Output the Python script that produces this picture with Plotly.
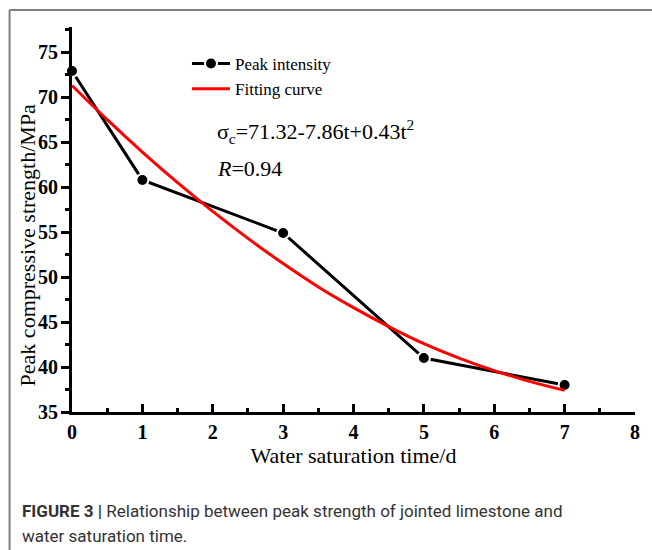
import plotly.graph_objects as go

# Data
t_days = [0, 1, 3, 5, 7]
peak_strength = [72.9, 60.8, 54.9, 41.0, 38.0]

fit_t = [0, 0.5, 1, 1.5, 2, 2.5, 3, 3.5, 4, 4.5, 5, 5.5, 6, 6.5, 7]
fit_sigma = [71.3, 67.5, 63.9, 60.5, 57.3, 54.3, 51.5, 48.9, 46.6, 44.5, 42.6, 41.0, 39.6, 38.4, 37.4]

x_ticks = [0, 1, 2, 3, 4, 5, 6, 7, 8]
y_ticks = [35, 40, 45, 50, 55, 60, 65, 70, 75]

W, H = 652, 550
L, R, T, B = 72, 640, 27, 412  # plot area pixels


def px(x):
    return (x - L) / (R - L)


def py(y):
    return (B - y) / (B - T)


serif = "Liberation Serif, Times New Roman, serif"

fig = go.Figure()
fig.add_trace(go.Scatter(
    x=t_days, y=peak_strength, mode="lines+markers", name="Peak intensity",
    line=dict(color="black", width=3),
    marker=dict(color="black", size=12, line=dict(color="white", width=2)),
    cliponaxis=False,
))
fig.add_trace(go.Scatter(
    x=fit_t, y=fit_sigma, mode="lines", name="Fitting curve",
    line=dict(color="#ff0000", width=3, shape="spline"),
    cliponaxis=False,
))

fig.update_layout(
    width=W, height=H, autosize=False,
    margin=dict(l=L, r=W - R, t=T, b=H - B),
    paper_bgcolor="white", plot_bgcolor="white",
    font=dict(family=serif, color="black"),
    showlegend=True,
    legend=dict(
        x=px(188), y=py(46), xanchor="left", yanchor="top",
        font=dict(family=serif, size=17, color="black"),
        bgcolor="rgba(0,0,0,0)", borderwidth=0,
        itemwidth=38, tracegroupgap=0,
    ),
    xaxis=dict(
        range=[0, 8], tickvals=x_ticks, ticktext=[str(v) for v in x_ticks],
        showgrid=False, zeroline=False,
        showline=True, linecolor="black", linewidth=3,
        ticks="inside", ticklen=8, tickwidth=3, tickcolor="black",
        minor=dict(ticks="inside", dtick=0.5, ticklen=4, tickwidth=3, tickcolor="black"),
        tickfont=dict(family=serif, size=20, color="black", weight="bold"),
        title=dict(text="Water saturation time/d", font=dict(family=serif, size=22, color="black"),
                   standoff=6),
    ),
    yaxis=dict(
        range=[35, 77.8], tickvals=y_ticks, ticktext=[str(v) for v in y_ticks],
        showgrid=False, zeroline=False,
        showline=True, linecolor="black", linewidth=3,
        ticks="outside", ticklen=8, tickwidth=3, tickcolor="black",
        minor=dict(ticks="outside", dtick=2.5, ticklen=4, tickwidth=3, tickcolor="black"),
        tickfont=dict(family=serif, size=20, color="black", weight="bold"),
        ticklabelstandoff=-1,
    ),
    shapes=[
        dict(type="line", xref="paper", yref="paper",
             x0=px(9), x1=px(9), y0=py(560), y1=py(10),
             line=dict(color="#7f7f7f", width=2)),
        dict(type="line", xref="paper", yref="paper",
             x0=px(9), x1=px(660), y0=py(10), y1=py(10),
             line=dict(color="#7f7f7f", width=2)),
    ],
    annotations=[
        dict(text="Peak compressive strength/MPa", textangle=-90,
             xref="paper", yref="paper", x=px(27), y=py(245),
             xanchor="center", yanchor="middle", showarrow=False,
             font=dict(family=serif, size=22, color="black")),
        dict(text="σ<sub>c</sub>=71.32-7.86t+0.43t<sup>2</sup>",
             xref="paper", yref="paper", x=px(216), y=py(131),
             xanchor="left", yanchor="middle", showarrow=False,
             font=dict(family=serif, size=22, color="black")),
        dict(text="<i>R</i>=0.94",
             xref="paper", yref="paper", x=px(216), y=py(168),
             xanchor="left", yanchor="middle", showarrow=False,
             font=dict(family=serif, size=22, color="black")),
        dict(text="<b>FIGURE 3 |</b> Relationship between peak strength of jointed limestone and",
             xref="paper", yref="paper", x=px(20), y=py(511),
             xanchor="left", yanchor="middle", showarrow=False,
             font=dict(family="Roboto, sans-serif", size=17, color="#333333")),
        dict(text="water saturation time.",
             xref="paper", yref="paper", x=px(20), y=py(536),
             xanchor="left", yanchor="middle", showarrow=False,
             font=dict(family="Roboto, sans-serif", size=17, color="#333333")),
    ],
)

fig.write_html("out.html")
